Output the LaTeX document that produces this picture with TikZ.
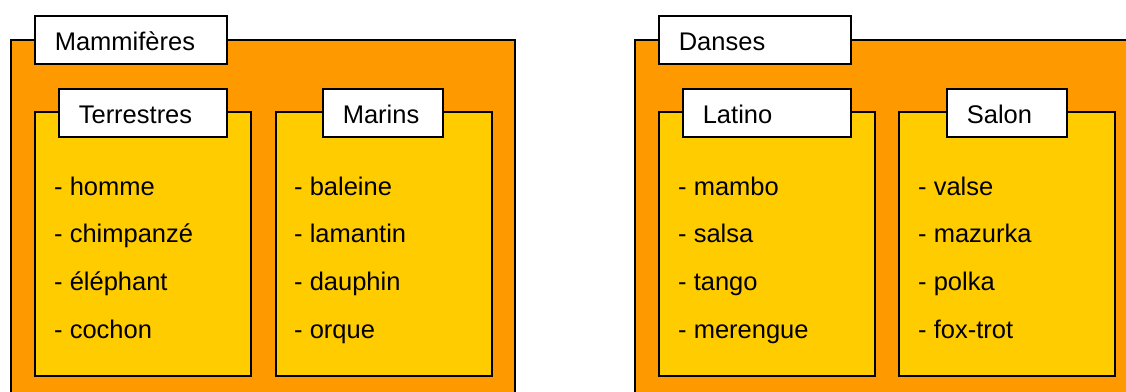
\documentclass[tikz,border=0pt]{standalone}
\usepackage{fontspec}
\setmainfont{Liberation Sans}
\usetikzlibrary{positioning}
\definecolor{boxorange}{HTML}{FF9900}
\definecolor{boxyellow}{HTML}{FFCC00}
\tikzset{
    group/.style = {
        draw,
        line width=1.6pt,
        fill = boxorange,
        anchor = north west,
        inner sep = 0pt,
        minimum height = 420pt,
        },
    subgroup/.style = {
        draw,
        line width=1.6pt,
        fill = boxyellow,
        anchor = north west,
        inner sep = 0pt,
        minimum width = 216pt,
        minimum height = 264pt,
        },
    title/.style = {
        draw,
        line width=1.6pt,
        fill = white,
        anchor = north west,
        minimum height = 48pt,
        inner xsep = 20pt,
        inner ysep = 0pt,
        text height = 22pt,
        text depth = 0pt,
        align = left,
        },
    item/.style = {
        anchor = base west,
        inner sep = 0pt,
        },
}

\begin{document}
\begin{tikzpicture}[x=1pt, y=-1pt, font=\fontsize{25.5}{30}\selectfont]
            \useasboundingbox (0,0) rectangle (1126,391);
            \clip (0,0) rectangle (1126,391);

            % Mammiferes
            \node[group, minimum width=504pt] (mam) at (10,39) {};
            \node[subgroup] (terre) at (34,111) {};
            \node[subgroup] (mer) at (275,111) {};
            \node[title, text width=152pt] (mamT) at (34,15) {Mammifères};
            \node[title, text width=128pt] (terreT) at (58,88) {Terrestres};
            \node[title, text width=80pt] (merT) at (322,88) {Marins};

            \node[item] (homme) at (54,195) {- homme};
            \node[item] (chimp) at (54,242) {- chimpanzé};
            \node[item] (eleph) at (54,290) {- éléphant};
            \node[item] (cochon) at (54,338) {- cochon};

            \node[item] (baleine) at (294,195) {- baleine};
            \node[item] (lamantin) at (294,242) {- lamantin};
            \node[item] (dauphin) at (294,290) {- dauphin};
            \node[item] (orque) at (294,338) {- orque};

            % Danses
            \node[group, minimum width=540pt] (dan) at (634,39) {};
            \node[subgroup] (latino) at (658,111) {};
            \node[subgroup] (salon) at (898,111) {};
            \node[title, text width=152pt] (danT) at (658,15) {Danses};
            \node[title, text width=128pt] (latinoT) at (682,88) {Latino};
            \node[title, text width=80pt] (salonT) at (946,88) {Salon};

            \node[item] (mambo) at (678,195) {- mambo};
            \node[item] (salsa) at (678,242) {- salsa};
            \node[item] (tango) at (678,290) {- tango};
            \node[item] (merengue) at (678,338) {- merengue};

            \node[item] (valse) at (918,195) {- valse};
            \node[item] (mazurka) at (918,242) {- mazurka};
            \node[item] (polka) at (918,290) {- polka};
            \node[item] (foxtrot) at (918,338) {- fox-trot};
        \end{tikzpicture}
\end{document}
